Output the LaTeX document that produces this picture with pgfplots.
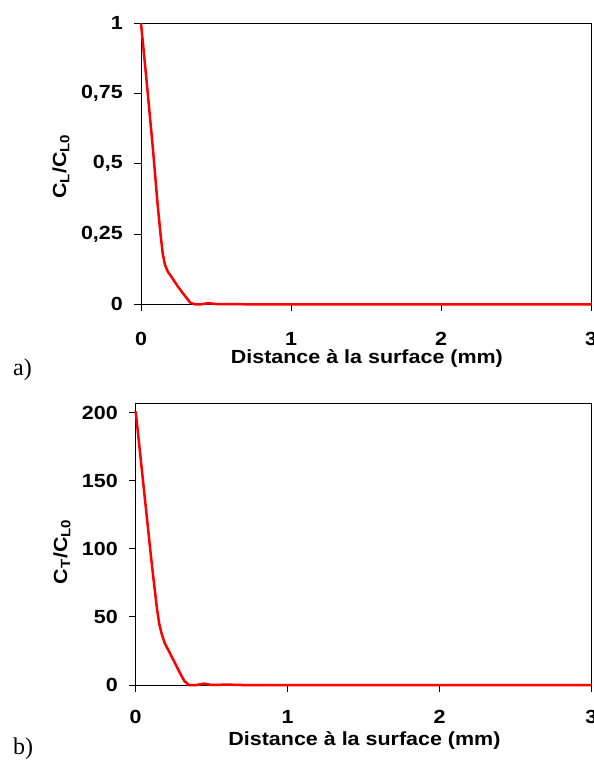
\documentclass[border=0pt]{standalone}
\usepackage{pgfplots}
\pgfplotsset{compat=1.18}
\usepackage{fontspec}
\setmainfont{Liberation Sans}
\newfontfamily\lab{Liberation Sans}[FakeStretch=1.13]
\newfontfamily\tnr{Liberation Serif}
\pgfplotsset{
  myax/.style={
    scale only axis,
    anchor=south west,
    xmin=0, xmax=3,
    ymin=0,
    axis line style={black, line width=1pt},
    tick align=outside,
    xtick pos=bottom,
    ytick pos=left,
    major tick length=7pt,
    tick style={black, line width=1pt},
    xtick={0,1,2,3},
    xticklabels={0,1,2,3},
    /pgf/number format/assume math mode=true,
    tick label style={font=\lab\bfseries\fontsize{19}{19}\selectfont},
    label style={font=\lab\bfseries\fontsize{19}{19}\selectfont},
    xlabel={Distance à la surface (mm)},
    xticklabel style={anchor=north, inner sep=0pt},
    yticklabel style={anchor=east, inner sep=0pt},
    clip=false,
  }
}
\begin{document}
\begin{tikzpicture}
\begin{axis}[myax,
  at={(141pt,456.7pt)}, width=450pt, height=281pt,
  ymax=1,
  ytick={0,0.25,0.5,0.75,1},
  yticklabels={0,{0,25},{0,5},{0,75},1},
  xticklabel style={yshift=-21pt},
  yticklabel style={xshift=-11pt},
  xlabel style={at={(axis description cs:0.502,-0.161)}, anchor=north, inner sep=0pt},
  ylabel={C\textsubscript{L}/C\textsubscript{L0}},
  ylabel style={at={(axis description cs:-0.178,0.49)}, anchor=center, rotate=0, inner sep=0pt},
]
\addplot[red, line width=2.5pt, line join=round] coordinates {
(0,1) (0.04,0.78) (0.08,0.55) (0.11,0.36) (0.13,0.25) (0.145,0.18) (0.16,0.14)
(0.18,0.115) (0.2,0.10) (0.25,0.06) (0.3,0.025) (0.33,0.005) (0.36,0) (0.4,0)
(0.45,0.004) (0.5,0.001) (0.6,0.001) (0.7,0) (1,0) (2,0) (3,0)
};
\end{axis}
\begin{axis}[myax,
  at={(135.7pt,76pt)}, width=455.7pt, height=281pt,
  ymax=206.4,
  ytick={0,50,100,150,200},
  yticklabels={0,50,100,150,200},
  xticklabel style={yshift=-18.5pt},
  yticklabel style={xshift=-10.7pt},
  xlabel style={at={(axis description cs:0.502,-0.165)}, anchor=north, inner sep=0pt},
  ylabel={C\textsubscript{T}/C\textsubscript{L0}},
  ylabel style={at={(axis description cs:-0.162,0.474)}, anchor=center, rotate=0, inner sep=0pt},
]
\addplot[red, line width=2.5pt, line join=round] coordinates {
(0,201) (0.05,148) (0.1,95) (0.116,79) (0.14,56) (0.155,45) (0.17,38) (0.19,31)
(0.25,18) (0.3,7) (0.32,3) (0.35,0) (0.4,0) (0.45,1) (0.5,0) (0.6,0.3)
(0.7,0) (1,0) (2,0) (3,0)
};
\end{axis}
\node[anchor=base west, inner sep=0pt, font=\tnr\fontsize{24}{24}\selectfont] at (13pt,385.5pt) {a)};
\node[anchor=base west, inner sep=0pt, font=\tnr\fontsize{24}{24}\selectfont] at (13pt,6pt) {b)};
\pgfresetboundingbox
\useasboundingbox (0,0) rectangle (594pt,761pt);
\end{tikzpicture}
\end{document}
